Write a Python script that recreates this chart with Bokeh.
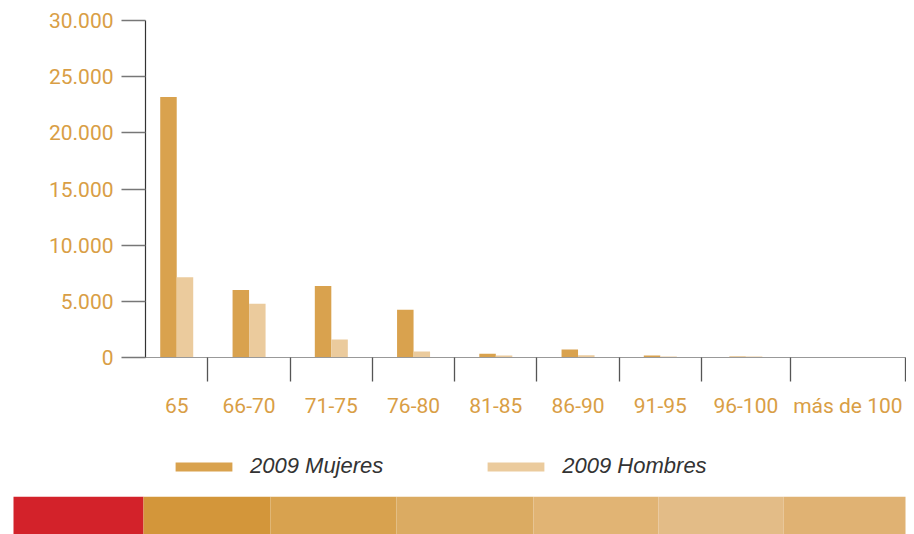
import numpy as np
from bokeh.plotting import figure
from bokeh.models import (Range1d, FixedTicker, Legend, LegendItem, ColumnDataSource)
from bokeh.transform import dodge
from bokeh.embed import file_html
from bokeh.resources import INLINE

# ---- data ----
categories = ["65", "66-70", "71-75", "76-80", "81-85", "86-90", "91-95", "96-100", "más de 100"]
mujeres_2009 = [23200, 6000, 6370, 4250, 330, 710, 180, 100, 0]
hombres_2009 = [7150, 4780, 1600, 530, 180, 200, 100, 80, 0]
y_ticks = [0, 5000, 10000, 15000, 20000, 25000, 30000]
y_tick_labels = ["0", "5.000", "10.000", "15.000", "20.000", "25.000", "30.000"]
series_names = ["2009 Mujeres", "2009 Hombres"]

# ---- style / layout ----
C_MUJ = "#D9A24E"
C_HOM = "#EBCB9D"
C_TXT = "#D99E45"
FONT = "Roboto"
strip_colors = ["#D3222A", "#D3963A", "#D8A24F", "#DBAB62", "#E1B474", "#E3BC87", "#E0B273"]
strip_edges = [13, 143, 270, 396, 533, 658, 783, 905]

# category slots sized by label length (as in the original chart)
slot = np.array([50 + 6.7 * len(c) for c in categories])
edges = np.concatenate([[0], np.cumsum(slot)])
centers = list((edges[:-1] + edges[1:]) / 2)
total = float(edges[-1])
bw = 16.5 * total / 760

src = ColumnDataSource(dict(x=centers, muj=mujeres_2009, hom=hombres_2009))

p = figure(width=906, height=420, output_backend="svg", toolbar_location=None,
           x_range=Range1d(0, total), y_range=Range1d(0, 30000),
           min_border_left=145, min_border_right=1, min_border_top=20, min_border_bottom=61)
p.outline_line_color = None
p.xgrid.grid_line_color = None
p.ygrid.grid_line_color = None

r1 = p.vbar(x=dodge("x", -bw / 2, range=p.x_range), top="muj", width=bw, source=src,
            fill_color=C_MUJ, line_color=None)
r2 = p.vbar(x=dodge("x", bw / 2, range=p.x_range), top="hom", width=bw, source=src,
            fill_color=C_HOM, line_color=None)

# y axis
ya = p.yaxis[0]
ya.ticker = FixedTicker(ticks=y_ticks, minor_ticks=[])
ya.major_label_overrides = {t: l for t, l in zip(y_ticks, y_tick_labels)}
ya.axis_line_color = "#333333"
ya.axis_line_width = 1.2
ya.major_tick_line_color = "#777777"
ya.major_tick_line_width = 1.5
ya.major_tick_out = 24
ya.major_tick_in = 0
ya.minor_tick_line_color = None
ya.major_label_standoff = 8
ya.major_label_text_font = FONT
ya.major_label_text_font_size = "21px"
ya.major_label_text_color = C_TXT

# x axis
xa = p.xaxis[0]
xa.ticker = FixedTicker(ticks=centers, minor_ticks=[float(e) for e in edges[1:]])
xa.major_label_overrides = {c: lab for c, lab in zip(centers, categories)}
xa.axis_line_color = "#999999"
xa.axis_line_width = 1.2
xa.major_tick_line_color = None
xa.major_tick_out = 24
xa.major_tick_in = 0
xa.minor_tick_line_color = "#555555"
xa.minor_tick_line_width = 1.3
xa.minor_tick_out = 24
xa.minor_tick_in = 0
xa.major_label_standoff = 12
xa.major_label_text_font = FONT
xa.major_label_text_font_size = "21px"
xa.major_label_text_color = C_TXT

# legend row (own figure; same bar styles, bars themselves out of view)
lf = figure(width=906, height=76, output_backend="svg", toolbar_location=None,
            x_range=Range1d(-2, -1), y_range=Range1d(0, 1), min_border=0)
lf.axis.visible = False
lf.grid.visible = False
lf.outline_line_color = None
l1 = lf.vbar(x="x", top="muj", width=bw, source=src, fill_color=C_MUJ, line_color=None)
l2 = lf.vbar(x="x", top="hom", width=bw, source=src, fill_color=C_HOM, line_color=None)
lg = Legend(items=[LegendItem(label=series_names[0], renderers=[l1]),
                   LegendItem(label=series_names[1], renderers=[l2])],
            location=(168, 17), orientation="horizontal", padding=0, margin=0,
            spacing=97, border_line_color=None, background_fill_alpha=0,
            glyph_width=71, glyph_height=11, label_height=24, label_standoff=11,
            label_text_font="Liberation Sans", label_text_font_style="italic",
            label_text_font_size="22px", label_text_color="#333333")
lf.add_layout(lg, "center")

# bottom decorative strip
s = figure(width=906, height=38, output_backend="svg", toolbar_location=None,
           x_range=Range1d(0, 906), y_range=Range1d(0, 1), min_border=0)
s.axis.visible = False
s.grid.visible = False
s.outline_line_color = None
s.quad(left=strip_edges[:-1], right=strip_edges[1:], bottom=0, top=1,
       fill_color=strip_colors, line_color=None)

open("out.html", "w").write(file_html([p, lf, s], INLINE))
